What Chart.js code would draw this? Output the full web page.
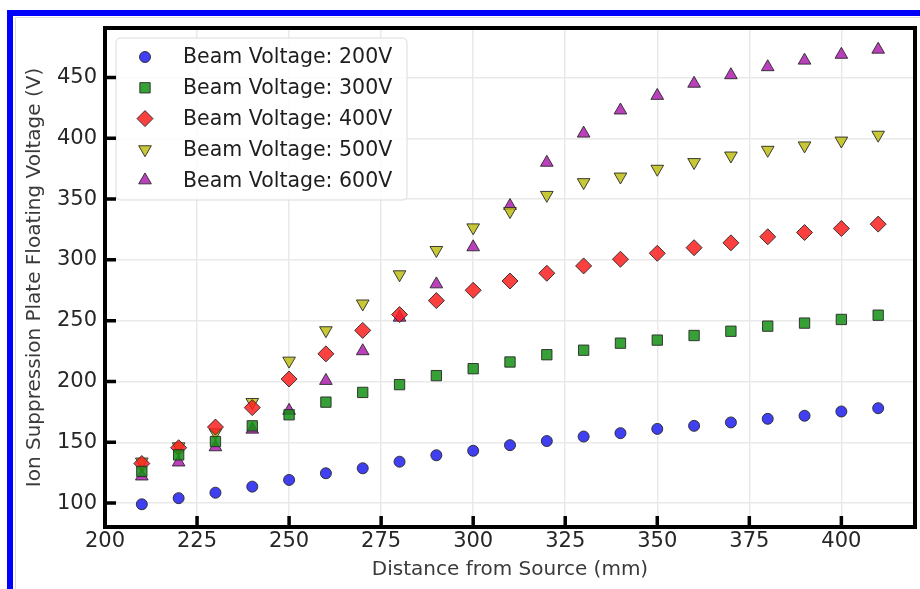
<!DOCTYPE html>
<html><head><meta charset="utf-8">
<script src="https://cdn.jsdelivr.net/npm/chart.js@4"></script>
<style>
html,body{margin:0;padding:0;background:#fff;}
#wrap{position:relative;width:920px;height:589px;overflow:hidden;background:#fff;}
canvas{position:absolute;left:0;top:0;}
.bt{position:absolute;background:#0000ff;}
.gl{position:absolute;background:#dcdcdc;}
</style></head><body>
<div id="wrap">
<canvas id="c" width="920" height="589"></canvas>
<div class="bt" style="left:7px;top:10px;width:913px;height:6px"></div>
<div class="bt" style="left:7px;top:10px;width:6px;height:579px"></div>
<div class="gl" style="left:15px;top:17px;width:905px;height:1px"></div>
<div class="gl" style="left:15px;top:17px;width:1px;height:572px"></div>
</div>
<script>
// ---- data ----
const distances = [210,220,230,240,250,260,270,280,290,300,310,320,330,340,350,360,370,380,390,400,410];
const v200 = [99,104,108.5,113.5,119,124.5,128.6,134,139.3,143,147.6,151,154.7,157.5,161,163.5,166.3,169.3,171.8,175.3,178];
const v300 = [126,139.6,150.6,163.5,172.6,183,191,197.4,204.8,210.5,216,222,225.7,231.5,234,237.8,241.3,245.5,248,251,254.5];
const v400 = [132.5,145.5,162.5,178.5,202,222.7,242,255,266.5,275,282.6,289,295,300.5,305.4,310,314,319,322.5,325.8,329.4];
const v500 = [134,146.5,158,183,217,242,264,288,308,326.6,340,353.3,363.8,368.4,374.8,380.3,385.7,390.4,394,398,402.8];
const v600 = [122,133.5,146,160.5,176,200.6,225,252.6,280,310.5,344.5,380,404,423,435,445,452,458.6,464,468.8,473];
const seriesLabels = ['Beam Voltage: 200V','Beam Voltage: 300V','Beam Voltage: 400V','Beam Voltage: 500V','Beam Voltage: 600V'];
const xTicks = [200,225,250,275,300,325,350,375,400];
const yTicks = [100,150,200,250,300,350,400,450];
const xTitle = 'Distance from Source (mm)';
const yTitle = 'Ion Suppression Plate Floating Voltage (V)';

// ---- styles ----
const FONT = 'DejaVu Sans';
const styles = [
  {pointStyle:'circle',   radius:5.5, rotation:0,   fill:'rgba(30,30,240,0.85)'},
  {pointStyle:'rect',     radius:7.3, rotation:0,   fill:'rgba(20,145,20,0.85)'},
  {pointStyle:'rectRot',  radius:8,   rotation:0,   fill:'rgba(250,30,30,0.85)'},
  {pointStyle:'triangle', radius:7.3, rotation:180, fill:'rgba(190,190,20,0.85)'},
  {pointStyle:'triangle', radius:7.3, rotation:0,   fill:'rgba(175,30,175,0.85)'}
];
const EDGE = 'rgba(40,40,40,0.9)';
const allSeries = [v200,v300,v400,v500,v600];

const datasets = allSeries.map((vals,i)=>({
  label: seriesLabels[i],
  data: distances.map((x,j)=>({x:x, y:vals[j]})),
  showLine:false,
  pointStyle: styles[i].pointStyle,
  pointRadius: styles[i].radius,
  pointHoverRadius: styles[i].radius,
  pointRotation: styles[i].rotation,
  backgroundColor: styles[i].fill,
  borderColor: EDGE,
  pointBorderWidth: 1
}));

const decor = {
  id:'decor',
  afterDatasetsDraw(chart){
    const ctx = chart.ctx, a = chart.chartArea;
    const xs = chart.scales.x, ys = chart.scales.y;
    ctx.save();
    // legend
    const lx=116, ly=38, lw=291, lh=162, r=5;
    ctx.beginPath();
    ctx.moveTo(lx+r,ly); ctx.lineTo(lx+lw-r,ly); ctx.quadraticCurveTo(lx+lw,ly,lx+lw,ly+r);
    ctx.lineTo(lx+lw,ly+lh-r); ctx.quadraticCurveTo(lx+lw,ly+lh,lx+lw-r,ly+lh);
    ctx.lineTo(lx+r,ly+lh); ctx.quadraticCurveTo(lx,ly+lh,lx,ly+lh-r);
    ctx.lineTo(lx,ly+r); ctx.quadraticCurveTo(lx,ly,lx+r,ly);
    ctx.closePath();
    ctx.fillStyle='rgba(255,255,255,0.85)'; ctx.fill();
    ctx.strokeStyle='#dcdcdc'; ctx.lineWidth=1; ctx.stroke();
    ctx.font = '20.5px "'+FONT+'"';
    ctx.textBaseline='middle'; ctx.textAlign='left';
    seriesLabels.forEach((lab,i)=>{
      const cy = 57 + i*30.8;
      ctx.fillStyle = styles[i].fill; ctx.strokeStyle = EDGE; ctx.lineWidth=1;
      Chart.helpers.drawPoint(ctx,{pointStyle:styles[i].pointStyle, radius:styles[i].radius, rotation:styles[i].rotation, borderWidth:1},145,cy);
      ctx.fillStyle='#1e1e1e';
      ctx.fillText(lab,183,cy+1);
    });
    // inward ticks
    ctx.strokeStyle='#000'; ctx.lineWidth=3.5;
    ctx.beginPath();
    xTicks.forEach(v=>{const p=xs.getPixelForValue(v); ctx.moveTo(p,a.bottom); ctx.lineTo(p,a.bottom-11);});
    yTicks.forEach(v=>{const p=ys.getPixelForValue(v); ctx.moveTo(a.left,p); ctx.lineTo(a.left+11,p);});
    ctx.stroke();
    // frame
    ctx.lineWidth=4;
    ctx.strokeRect(a.left,a.top,a.right-a.left,a.bottom-a.top);
    ctx.restore();
  }
};

new Chart(document.getElementById('c'),{
  type:'scatter',
  data:{datasets:datasets},
  options:{
    responsive:false, animation:false, devicePixelRatio:1,
    layout:{autoPadding:false, padding:{top:28,right:5,bottom:4,left:19}},
    plugins:{legend:{display:false}, tooltip:{enabled:false}},
    scales:{
      x:{type:'linear', min:200, max:420,
        afterBuildTicks(s){ s.ticks = xTicks.map(v=>({value:v})); },
        afterFit(s){ s.height = 58; s.paddingLeft = 0; s.paddingRight = 0; },
        grid:{color:'#e9e9e9', lineWidth:1.5, drawTicks:false},
        border:{display:false},
        ticks:{font:{family:FONT,size:21}, color:'#262626', padding:2, maxRotation:0, autoSkip:false,
          callback:v=>String(v)},
        title:{display:true, text:xTitle, font:{family:FONT,size:20}, color:'#3a3a3a', padding:{top:0,bottom:3}}
      },
      y:{type:'linear', min:80.3, max:490.7,
        afterBuildTicks(s){ s.ticks = yTicks.map(v=>({value:v})); },
        afterFit(s){ s.width = 86; s.paddingTop = 0; s.paddingBottom = 0; },
        grid:{color:'#e9e9e9', lineWidth:1.5, drawTicks:false},
        border:{display:false},
        ticks:{font:{family:FONT,size:21}, color:'#262626', padding:8, autoSkip:false,
          callback:v=>String(v)},
        title:{display:true, text:yTitle, font:{family:FONT,size:20}, color:'#3a3a3a', padding:{top:4,bottom:0}}
      }
    }
  },
  plugins:[decor]
});
</script>
</body></html>
